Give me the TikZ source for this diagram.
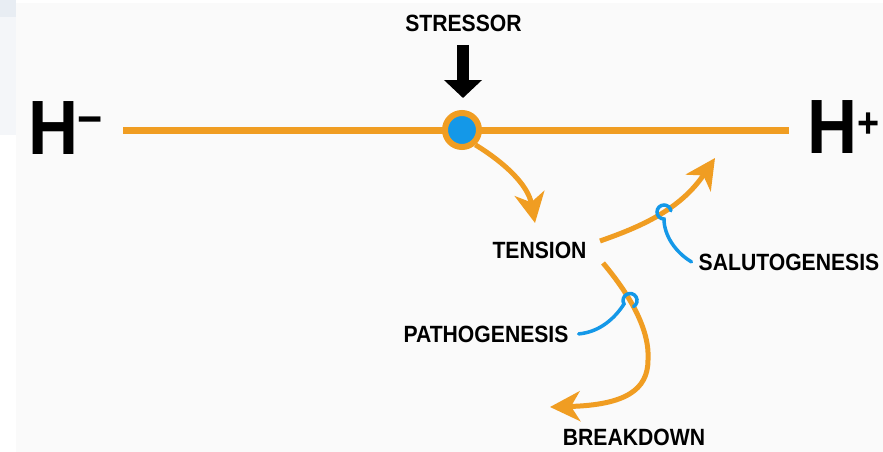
\documentclass[tikz,border=0pt]{standalone}
\usepackage{fontspec}
\setmainfont{Liberation Sans}
\newfontfamily\labfont[FakeStretch=0.9]{Liberation Sans}
\usetikzlibrary{arrows.meta}
\definecolor{hOrange}{RGB}{240,157,34}
\definecolor{hBlue}{RGB}{20,152,232}
\definecolor{bgGray}{RGB}{250,250,250}
\definecolor{bgBlueA}{RGB}{232,237,243}
\definecolor{bgBlueB}{RGB}{244,246,249}
\begin{document}
\begin{tikzpicture}[x=1pt,y=-1pt,
  lab/.style={font=\labfont\bfseries\fontsize{23.5}{26}\selectfont, inner sep=0pt, anchor=base},
  big/.style={font=\labfont\bfseries\fontsize{77}{80}\selectfont, inner sep=0pt, anchor=base west},
  mainline/.style={draw=hOrange, line width=7pt},
  curvearrow/.style={draw=hOrange, line width=5pt, -{Stealth[length=30pt,width=30pt,inset=9pt]}},
  hookline/.style={draw=hBlue, line width=3.5pt, line cap=round},
  stressarrow/.style={draw=black, line width=12.5pt, -{Triangle[length=18pt,width=37pt]}},
  ringnode/.style={circle, draw=hOrange, line width=6pt, fill=hBlue, minimum size=34pt, inner sep=0pt},
]
% background
\useasboundingbox (0,0) rectangle (883,452);
\fill[white] (0,0) rectangle (883,452);
\fill[bgGray] (16,3) rectangle (883,452);
\fill[bgBlueB] (0,17) rectangle (16,135);
\fill[bgBlueA] (0,0) rectangle (16,17);

% poles
\node[big] (hminus) at (28,154) {H\kern-1pt\raisebox{19pt}{\fontsize{48}{48}\selectfont −}};
\node[big] (hplus) at (807,153) {H\kern0pt\raisebox{16pt}{\fontsize{42}{42}\selectfont +}};

% main line
\coordinate (lineL) at (123,130);
\coordinate (lineR) at (789,130);
\draw[mainline] (lineL) -- (lineR);
\node[ringnode] (ring) at (462,130) {};

% labels
\node[lab] (stressor) at (463.5,32) {STRESSOR};
\node[lab] (tension) at (539.5,258) {TENSION};
\node[lab] (salut) at (789,270) {SALUTOGENESIS};
\node[lab] (patho) at (486,342) {PATHOGENESIS};
\node[lab] (breakdown) at (634,445) {BREAKDOWN};

% stressor arrow
\coordinate (sTop) at (463,45);
\coordinate (sTip) at (463,98);
\draw[stressarrow] (sTop) -- (sTip);

% curved arrows
\coordinate (tTip) at (535,223);
\draw[curvearrow] (ring.-48) .. controls (505,163) and (528,185) .. (tTip);

\coordinate (upStart) at (600,241);
\coordinate (upTip) at (715,158);
\draw[curvearrow] (upStart) .. controls (640,227) and (680,210) .. (upTip);

\coordinate (downStart) at (603,263);
\coordinate (downTip) at (550,407);
\draw[curvearrow] (downStart) .. controls (630,295) and (650,330) .. (648,360)
  .. controls (648,390) and (625,405) .. (downTip);

% blue hooks
\draw[hookline] ([xshift=-7pt]salut.west) .. controls (675,252) and (664,235) .. (664,219)
  arc[start angle=90, end angle=350, radius=7];
\draw[hookline] ([xshift=10pt]patho.east) .. controls (600,332) and (615,318) .. (624,304)
  arc[start angle=150, end angle=420, radius=7];
\end{tikzpicture}
\end{document}
